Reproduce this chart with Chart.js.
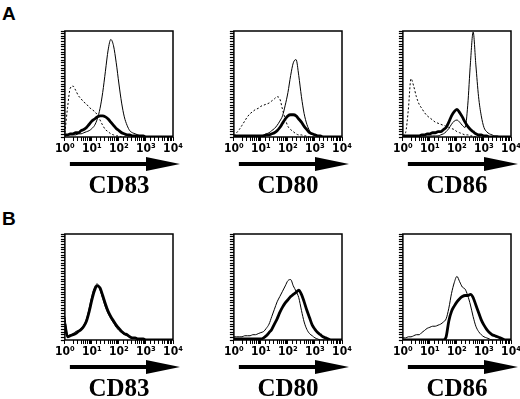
<!DOCTYPE html>
<html>
<head>
<meta charset="utf-8">
<script src="https://cdn.jsdelivr.net/npm/chart.js@4.4.0/dist/chart.umd.min.js"></script>
<style>
  body { margin: 0; background: #fff; }
  #figure { position: relative; width: 520px; height: 399px; overflow: hidden; background: #fff; }
  .panel { position: absolute; width: 131px; height: 175px; }
  .letter { position: absolute; font: bold 19px 'Liberation Sans', Arial, sans-serif; color: #000; }
</style>
</head>
<body>
<div id="figure">
  <div class="letter" style="left:2px;top:3px">A</div>
  <div class="letter" style="left:2px;top:208px">B</div>
  <div class="panel" style="left:54px;top:27px"><canvas id="a-cd83"></canvas></div>
  <div class="panel" style="left:223px;top:27px"><canvas id="a-cd80"></canvas></div>
  <div class="panel" style="left:392px;top:27px"><canvas id="a-cd86"></canvas></div>
  <div class="panel" style="left:54px;top:230px"><canvas id="b-cd83"></canvas></div>
  <div class="panel" style="left:223px;top:230px"><canvas id="b-cd80"></canvas></div>
  <div class="panel" style="left:392px;top:230px"><canvas id="b-cd86"></canvas></div>
</div>
<script>
// Fluorescence channels (10^0 .. 10^4, one point every 0.1 decade)
const fluorescence = [1, 1.26, 1.58, 2, 2.51, 3.16, 3.98, 5.01, 6.31, 7.94,
  10, 12.6, 15.8, 20, 25.1, 31.6, 39.8, 50.1, 63.1, 79.4,
  100, 126, 158, 200, 251, 316, 398, 501, 631, 794,
  1000, 1259, 1585, 1995, 2512, 3162, 3981, 5012, 6310, 7943, 10000];

const decadeValues = [1, 10, 100, 1000, 10000];
const decadeLabels = ['10⁰', '10¹', '10²', '10³', '10⁴'];
const markers = ['CD83', 'CD80', 'CD86'];

// Panel A: control (dashed), thin line, thick line  (counts in % of panel height)
const aCd83Control = [4,28,46,48,44,39,36,33,31,28, 26,24,21,16,11,7,5,3,2,1, 1,0,0,0,0,0,0,0,0,0, 0,0,0,0,0,0,0,0,0,0, 0];
const aCd83Thin    = [2,2,2,2,2,3,3,4,5,6, 8,11,17,27,42,62,82,92,86,70, 50,32,19,11,6,4,3,2,1,1, 0,0,0,0,0,0,0,0,0,0, 0];
const aCd83Thick   = [2,2,3,3,4,4,6,7,9,12, 15,17,19,20,20,19,17,14,11,8, 6,4,3,2,2,1,1,1,1,1, 0,0,0,0,0,0,0,0,0,0, 0];

const aCd80Control = [1,4,7,11,15,19,22,24,26,27, 29,30,31,32,34,36,38,36,26,17, 10,7,5,3,2,2,1,1,0,0, 0,0,0,0,0,0,0,0,0,0, 0];
const aCd80Thin    = [1,1,1,1,1,1,1,1,1,1, 1,2,3,4,6,8,11,15,20,30, 42,58,70,73,58,38,22,12,6,3, 2,1,0,0,0,0,0,0,0,0, 0];
const aCd80Thick   = [1,1,1,1,1,1,1,1,1,1, 1,1,2,2,3,4,6,9,13,17, 20,21,21,20,17,14,10,7,4,3, 2,1,1,0,0,0,0,0,0,0, 0];

const aCd86Control = [1,4,25,55,48,38,31,27,23,20, 18,16,14,13,12,11,10,9,8,7, 5,4,3,2,2,1,1,0,0,0, 0,0,0,0,0,0,0,0,0,0, 0];
const aCd86Thin    = [1,1,1,1,1,1,1,1,1,1, 1,1,1,1,2,3,5,8,12,15, 16,14,11,9,30,70,99,68,38,20, 9,5,3,2,1,1,0,0,0,0, 0];
const aCd86Thick   = [1,1,1,1,1,1,1,2,2,3, 3,4,4,5,5,7,9,14,20,24, 26,23,19,14,10,7,5,3,2,2, 1,1,0,0,0,0,0,0,0,0, 0];

// Panel B: thin line, thick line
const bCd83Thin  = [22,4,5,6,8,9,11,14,20,30, 42,50,53,47,39,31,25,20,16,12, 9,7,5,4,3,2,2,1,1,0, 0,0,0,0,0,0,0,0,0,0, 0];
const bCd83Thick = [15,3,4,5,6,8,10,13,18,27, 38,47,51,49,42,34,27,22,18,14, 11,8,6,5,3,2,2,1,1,1, 0,0,0,0,0,0,0,0,0,0, 0];

const bCd80Thin  = [3,3,3,3,4,4,4,5,5,6, 7,8,11,15,22,29,36,41,46,51, 56,57,51,46,40,28,17,10,6,4, 2,1,0,0,0,0,0,0,0,0, 0];
const bCd80Thick = [1,1,1,1,1,1,1,1,1,1, 1,2,4,7,10,15,20,26,31,35, 38,41,43,45,47,43,36,28,21,14, 10,7,5,3,2,1,0,0,0,0, 0];

const bCd86Thin  = [2,2,3,3,4,5,5,7,9,11, 12,13,13,14,15,17,20,30,44,54, 60,55,50,48,42,33,22,13,8,5, 3,2,1,0,0,0,0,0,0,0, 0];
const bCd86Thick = [0,0,0,0,0,0,0,0,0,0, 0,0,0,0,0,0,3,18,27,32, 36,39,41,42,42,43,40,33,26,19, 14,10,7,5,4,3,2,1,0,0, 0];

// line looks
const styles = {
  dashed: { borderWidth: 1, borderDash: [2, 2] },
  thin:   { borderWidth: 1, borderDash: [] },
  thick:  { borderWidth: 2.8, borderDash: [] }
};

// Box round the plot + the arrow under the axis
const framePlugin = {
  id: 'frame',
  afterDraw(chart) {
    const { ctx, chartArea: a } = chart;
    ctx.save();
    ctx.strokeStyle = '#000';
    ctx.lineWidth = 1.5;
    ctx.strokeRect(a.left, a.top, a.right - a.left, a.bottom - a.top);

    const y = a.bottom + 27;
    ctx.lineWidth = 4;
    ctx.beginPath();
    ctx.moveTo(a.left + 5, y);
    ctx.lineTo(a.right - 22, y);
    ctx.stroke();
    ctx.fillStyle = '#000';
    ctx.beginPath();
    ctx.moveTo(a.right - 27, y - 7);
    ctx.lineTo(a.right + 7, y);
    ctx.lineTo(a.right - 27, y + 7);
    ctx.closePath();
    ctx.fill();
    ctx.restore();
  }
};

function makeDataset(values, look) {
  return Object.assign({
    data: fluorescence.map((x, i) => ({ x: x, y: values[i] })),
    borderColor: '#000',
    pointRadius: 0,
    fill: false,
    cubicInterpolationMode: 'monotone'
  }, styles[look]);
}

function drawPanel(canvasId, marker, series) {
  const ctx = document.getElementById(canvasId).getContext('2d');
  new Chart(ctx, {
    type: 'line',
    data: { datasets: series.map(s => makeDataset(s[0], s[1])) },
    plugins: [framePlugin],
    options: {
      responsive: true,
      maintainAspectRatio: false,
      animation: false,
      events: [],
      layout: { padding: { top: 4, right: 12, left: 0, bottom: 0 } },
      plugins: { legend: { display: false }, tooltip: { enabled: false } },
      scales: {
        x: {
          type: 'logarithmic',
          min: 1,
          max: 10000,
          afterFit: s => { s.height = 65; },
          grid: { drawOnChartArea: false, drawTicks: true, tickLength: 4, tickWidth: 1, color: '#000' },
          border: { display: false },
          ticks: {
            autoSkip: false,
            maxRotation: 0,
            padding: 1,
            color: '#000',
            font: { family: "'Liberation Sans Narrow', 'DejaVu Sans Condensed', sans-serif", size: 12, weight: 'bold' },
            callback: v => {
              const k = decadeValues.indexOf(v);
              return k >= 0 ? decadeLabels[k] : '';
            }
          },
          title: {
            display: true,
            text: marker,
            color: '#000',
            padding: { top: 0, bottom: 0 },
            font: { family: "'Liberation Serif', 'Times New Roman', serif", size: 25, weight: 'bold' }
          }
        },
        y: {
          min: 0,
          max: 100,
          afterFit: s => { s.width = 8; },
          grid: { drawOnChartArea: false, drawTicks: true, tickLength: 4, tickWidth: 1.2, color: '#000' },
          border: { display: false },
          ticks: { display: false, stepSize: 2.5, maxTicksLimit: 100 }
        }
      }
    }
  });
}

document.addEventListener('DOMContentLoaded', function() {
  drawPanel('a-cd83', markers[0], [[aCd83Control, 'dashed'], [aCd83Thin, 'thin'], [aCd83Thick, 'thick']]);
  drawPanel('a-cd80', markers[1], [[aCd80Control, 'dashed'], [aCd80Thin, 'thin'], [aCd80Thick, 'thick']]);
  drawPanel('a-cd86', markers[2], [[aCd86Control, 'dashed'], [aCd86Thin, 'thin'], [aCd86Thick, 'thick']]);
  drawPanel('b-cd83', markers[0], [[bCd83Thin, 'thin'], [bCd83Thick, 'thick']]);
  drawPanel('b-cd80', markers[1], [[bCd80Thin, 'thin'], [bCd80Thick, 'thick']]);
  drawPanel('b-cd86', markers[2], [[bCd86Thin, 'thin'], [bCd86Thick, 'thick']]);
});
</script>
</body>
</html>
